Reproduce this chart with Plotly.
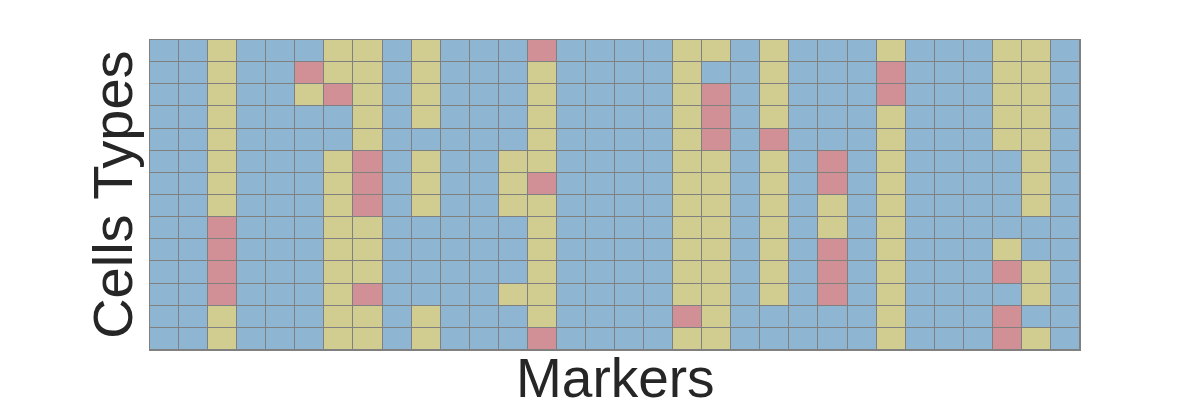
import plotly.graph_objects as go

# 0 = blue, 1 = yellow, 2 = red ; rows listed top to bottom
markers = [f"M{i+1}" for i in range(32)]
cell_types = [f"C{i+1}" for i in range(14)]

row_01 = "BBYBBBYYBYBBBRBBBBYYBYBBBYBBBYYB"
row_02 = "BBYBBRYYBYBBBYBBBBYBBYBBBRBBBYYB"
row_03 = "BBYBBYRYBYBBBYBBBBYRBYBBBRBBBYYB"
row_04 = "BBYBBBBYBYBBBYBBBBYRBYBBBYBBBYYB"
row_05 = "BBYBBBBYBBBBBYBBBBYRBRBBBYBBBYYB"
row_06 = "BBYBBBYRBYBBYYBBBBYYBYBRBYBBBBYB"
row_07 = "BBYBBBYRBYBBYRBBBBYYBYBRBYBBBBYB"
row_08 = "BBYBBBYRBYBBYYBBBBYYBYBYBYBBBBYB"
row_09 = "BBRBBBYYBBBBBYBBBBYYBYBYBYBBBBBB"
row_10 = "BBRBBBYYBBBBBYBBBBYYBYBRBYBBBYBB"
row_11 = "BBRBBBYYBBBBBYBBBBYYBYBRBYBBBRYB"
row_12 = "BBRBBBYRBBBBYYBBBBYYBYBRBYBBBBYB"
row_13 = "BBYBBBYYBYBBBYBBBBRYBBBBBYBBBRBB"
row_14 = "BBYBBBYYBYBBBRBBBBYYBBBBBYBBBRYB"

rows = [row_01, row_02, row_03, row_04, row_05, row_06, row_07,
        row_08, row_09, row_10, row_11, row_12, row_13, row_14]
code = {"B": 0, "Y": 1, "R": 2}
z = [[code[c] for c in r] for r in rows]

blue = "#8eb6d2"
yellow = "#d1cc90"
red = "#d18f96"
colorscale = [[0, blue], [1/3, blue], [1/3, yellow], [2/3, yellow], [2/3, red], [1, red]]

fig = go.Figure(go.Heatmap(
    z=z, x=markers, y=cell_types,
    zmin=-0.5, zmax=2.5, colorscale=colorscale, showscale=False,
    xgap=1, ygap=1, hoverinfo="skip",
))

font = "Liberation Sans, Arial, sans-serif"
fig.update_layout(
    width=1200, height=400,
    margin=dict(l=150, r=120, t=40, b=50),
    plot_bgcolor="#808080", paper_bgcolor="white",
    font=dict(family=font, color="#262626"),
    xaxis=dict(showticklabels=False, ticks="", showgrid=False, zeroline=False,
               showline=True, linecolor="#808080", linewidth=1, mirror=True),
    yaxis=dict(showticklabels=False, ticks="", showgrid=False, zeroline=False,
               autorange="reversed",
               showline=True, linecolor="#808080", linewidth=1, mirror=True),
    annotations=[
        dict(text="Markers", xref="paper", yref="paper", x=0.5, y=0.016,
             xanchor="center", yanchor="top", showarrow=False,
             font=dict(size=55, family=font, color="#262626")),
        dict(text="Cells Types", xref="paper", yref="paper", x=-0.005, y=0.5,
             xanchor="right", yanchor="middle", textangle=-90, showarrow=False,
             font=dict(size=56, family=font, color="#262626")),
    ],
)

fig.write_html("out.html")
